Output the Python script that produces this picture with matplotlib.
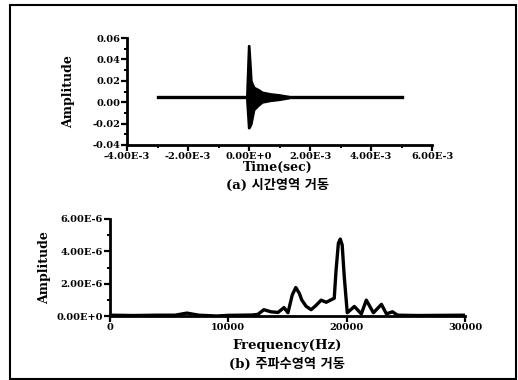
import numpy as np
import matplotlib
matplotlib.use('Agg')
import matplotlib.pyplot as plt
from matplotlib.patches import Rectangle
from matplotlib.ticker import MultipleLocator, FixedLocator

plt.rcParams['font.family'] = ['DejaVu Serif', 'Noto Sans CJK KR']
plt.rcParams['font.weight'] = 'bold'

# time-domain record: flat trace plus a short burst around t = 0
trace_start = -3.0e-3
trace_end = 5.0e-3
trace_level = 0.0047
burst_t = [-0.08e-3, -0.02e-3, 0.0, 0.04e-3, 0.07e-3, 0.16e-3, 0.3e-3, 0.43e-3, 0.7e-3, 1.0e-3, 1.3e-3]
burst_hi = [0.006, 0.053, 0.053, 0.035, 0.02, 0.014, 0.012, 0.0095, 0.008, 0.007, 0.0055]
burst_lo = [0.003, -0.024, -0.024, -0.022, -0.02, -0.007, -0.003, 0.0, 0.0015, 0.0025, 0.004]

time_ticks = [-4e-3, -2e-3, 0.0, 2e-3, 4e-3, 6e-3]
time_labels = ['-4.00E-3', '-2.00E-3', '0.00E+0', '2.00E-3', '4.00E-3', '6.00E-3']
amp_ticks = [-0.04, -0.02, 0.0, 0.02, 0.04, 0.06]
amp_labels = ['-0.04', '-0.02', '0.00', '0.02', '0.04', '0.06']

# frequency-domain spectrum (amplitude in 1e-6)
freq = [0, 2000, 4000, 5500, 6500, 7500, 9000, 10000, 11000, 12000, 12500, 13000,
        13600, 14200, 14700, 15040, 15400, 15700, 16000, 16200, 16570, 17000, 17400,
        17840, 18270, 18950, 19100, 19300, 19460, 19620, 19800, 20050, 20650, 21240,
        21660, 22260, 22940, 23360, 23870, 24300, 26000, 28000, 30000]
spec = [0.05, 0.03, 0.05, 0.05, 0.18, 0.05, 0.0, 0.04, 0.05, 0.06, 0.1, 0.39,
        0.26, 0.22, 0.52, 0.2, 1.3, 1.76, 1.4, 1.0, 0.6, 0.39, 0.65,
        0.98, 0.85, 1.1, 2.8, 4.5, 4.76, 4.4, 2.4, 0.2, 0.59, 0.13,
        0.98, 0.2, 0.72, 0.13, 0.26, 0.05, 0.03, 0.04, 0.05]

freq_ticks = [0, 10000, 20000, 30000]
spec_ticks = [0.0, 2e-6, 4e-6, 6e-6]
spec_labels = ['0.00E+0', '2.00E-6', '4.00E-6', '6.00E-6']

W, H = 518, 380
fig = plt.figure(figsize=(W / 100, H / 100), dpi=100)
fig.patches.append(Rectangle((10 / W, 1 / H), 506 / W, 374 / H, transform=fig.transFigure,
                             fill=False, edgecolor='black', linewidth=1.5))


def style_axes(ax):
    for s in ['top', 'right']:
        ax.spines[s].set_visible(False)
    for s in ['left', 'bottom']:
        ax.spines[s].set_linewidth(2.0)
    ax.tick_params(which='major', length=4, width=1.6, labelsize=7, pad=1)
    ax.tick_params(which='minor', length=2.5, width=1.4)
    for lbl in ax.get_xticklabels() + ax.get_yticklabels():
        lbl.set_fontweight('bold')


# (a) time domain
ax1 = fig.add_axes([127 / W, 1 - 145 / H, 305 / W, 107 / H])
ax1.plot([trace_start, trace_end], [trace_level, trace_level], color='black', lw=2.4)
ax1.fill_between(burst_t, burst_lo, burst_hi, color='black', lw=1.5, edgecolor='black')
ax1.set_xlim(-4e-3, 6e-3)
ax1.set_ylim(-0.04, 0.06)
ax1.xaxis.set_major_locator(FixedLocator(time_ticks))
ax1.set_xticklabels(time_labels)
ax1.yaxis.set_major_locator(FixedLocator(amp_ticks))
ax1.set_yticklabels(amp_labels)
ax1.xaxis.set_minor_locator(MultipleLocator(1e-3))
ax1.yaxis.set_minor_locator(MultipleLocator(0.01))
style_axes(ax1)
ax1.set_ylabel('Amplitude', fontsize=9, fontweight='bold', labelpad=12)
fig.text(278 / W, 1 - 167 / H, 'Time(sec)', ha='center', va='center', fontsize=9, fontweight='bold')
fig.text(278 / W, 1 - 185 / H, '(a) 시간영역 거동', ha='center', va='center', fontsize=9.5, fontweight='bold')

# (b) frequency domain
ax2 = fig.add_axes([110 / W, 1 - 316 / H, 355 / W, 97 / H])
ax2.plot(freq, np.array(spec) * 1e-6, color='black', lw=2.4)
ax2.set_xlim(0, 30000)
ax2.set_ylim(0, 6e-6)
ax2.xaxis.set_major_locator(FixedLocator(freq_ticks))
ax2.set_xticklabels([str(f) for f in freq_ticks])
ax2.yaxis.set_major_locator(FixedLocator(spec_ticks))
ax2.set_yticklabels(spec_labels)
ax2.yaxis.set_minor_locator(MultipleLocator(1e-6))
style_axes(ax2)
ax2.set_ylabel('Amplitude', fontsize=9, fontweight='bold', labelpad=4)
fig.text(287 / W, 1 - 346 / H, 'Frequency(Hz)', ha='center', va='center', fontsize=9.5, fontweight='bold')
fig.text(287 / W, 1 - 364 / H, '(b) 주파수영역 거동', ha='center', va='center', fontsize=9.5, fontweight='bold')

fig.savefig('out.png', dpi=100)
